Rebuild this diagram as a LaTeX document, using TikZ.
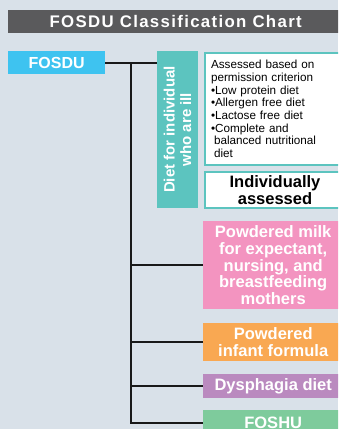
\documentclass[tikz,border=0pt]{standalone}
\usepackage{fontspec}
\setmainfont{Liberation Sans}
\definecolor{chartbg}{HTML}{D9E1E9}
\definecolor{titlegrey}{HTML}{5A5A5C}
\definecolor{fosducyan}{HTML}{3EC3F0}
\definecolor{dietteal}{HTML}{5CC4BF}
\definecolor{milkpink}{HTML}{F394C0}
\definecolor{infantorange}{HTML}{F9A852}
\definecolor{dysphagiapurple}{HTML}{BA8ABF}
\definecolor{foshugreen}{HTML}{7ECB9C}
\tikzset{
  colbox/.style={anchor=north west, inner sep=0pt, text=white, align=center,
    minimum width=140, font=\fontsize{16.5}{16.8}\selectfont\bfseries},
  whitebox/.style={anchor=north west, fill=white, draw=dietteal, line width=2pt},
  wire/.style={line width=1.8pt, black!90}
}
\begin{document}
\begin{tikzpicture}[x=1pt,y=-1pt]
  \useasboundingbox (0,0) rectangle (338,429);
  \fill[chartbg] (0,0) rectangle (338,429);
  \clip (0,0) rectangle (338,429);
  \node[colbox, fill=titlegrey, minimum width=335, minimum height=23,
    font=\fontsize{16.8}{16.8}\selectfont\bfseries\addfontfeature{LetterSpace=8}]
    (title) at (8,10) {FOSDU Classification Chart};
  \node[colbox, fill=fosducyan, minimum width=97, minimum height=23,
    font=\fontsize{16}{16}\selectfont\bfseries] (fosdu) at (8,51) {FOSDU};
  \node[colbox, anchor=center, rotate=90, fill=dietteal, minimum width=157,
    minimum height=41, font=\fontsize{15}{16.7}\selectfont\bfseries]
    (diet) at (177.5,129.5) {Diet for individual\\who are ill};
  \node[whitebox, inner xsep=6pt, inner ysep=0pt, minimum height=112,
    text width=130, align=left, font=\fontsize{11.7}{12.7}\selectfont]
    (criteria) at (204,52) {Assessed based on\\permission criterion\\%
    •Low protein diet\\•Allergen free diet\\•Lactose free diet\\%
    •Complete and\\\hspace*{3pt}balanced nutritional\\\hspace*{3pt}diet};
  \node[whitebox, inner sep=0pt, minimum width=140, minimum height=36,
    align=center, font=\fontsize{16.5}{17}\selectfont\bfseries]
    (individual) at (204,171) {Individually\\assessed};
  \node[colbox, fill=milkpink, minimum height=88] (milk) at (203,221)
    {Powdered milk\\for expectant,\\nursing, and\\breastfeeding\\mothers};
  \node[colbox, fill=infantorange, minimum height=38] (infant) at (203,323)
    {Powdered\\infant formula};
  \node[colbox, fill=dysphagiapurple, minimum height=24] (dysphagia) at (203,374)
    {Dysphagia diet};
  \node[colbox, fill=foshugreen, minimum height=26] (foshu) at (203,410)
    {FOSHU};
  \coordinate (trunk) at (131,62);
  \begin{scope}[wire]
    \draw (fosdu.east) to (fosdu.east -| diet.north);
    \draw (trunk) |- (foshu.west);
    \draw (trunk |- milk.west) to (milk.west);
    \draw (trunk |- infant.west) to (infant.west);
    \draw (trunk |- dysphagia.west) to (dysphagia.west);
  \end{scope}
\end{tikzpicture}
\end{document}
